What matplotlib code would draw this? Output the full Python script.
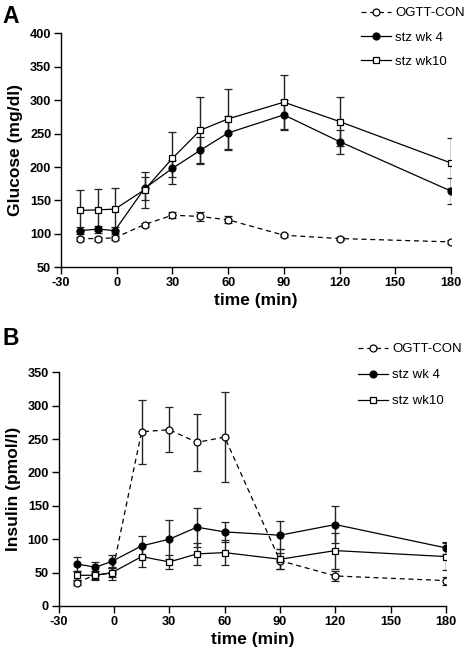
import matplotlib
matplotlib.use("Agg")
import matplotlib.pyplot as plt
from matplotlib.lines import Line2D

plt.rcParams['font.family'] = ['Liberation Sans', 'DejaVu Sans']
plt.rcParams['axes.unicode_minus'] = False

# Time points (min)
time = [-20, -10, -1, 15, 30, 45, 60, 90, 120, 180]
series_names = ["OGTT-CON", "stz wk 4", "stz wk10"]

# Panel A: glucose (mg/dl)
con_glu = [93, 93, 94, 114, 128, 126, 121, 98, 93, 88]
con_glu_err = [3, 3, 3, 3, 4, 6, 5, 2, 2, 3]
wk4_glu = [105, 107, 105, 168, 198, 225, 251, 278, 238, 164]
wk4_glu_err = [5, 5, 5, 17, 13, 20, 25, 22, 18, 19]
wk10_glu = [135, 136, 137, 166, 213, 255, 272, 297, 268, 206]
wk10_glu_err = [30, 31, 31, 27, 39, 49, 45, 40, 37, 38]

# Panel B: insulin (pmol/l)
con_ins = [35, 47, 49, 261, 264, 245, 253, 68, 45, 38]
con_ins_err = [4, 6, 10, 48, 34, 43, 67, 12, 7, 6]
wk4_ins = [63, 58, 67, 90, 100, 118, 111, 106, 122, 87]
wk4_ins_err = [11, 8, 10, 15, 29, 29, 15, 21, 28, 9]
wk10_ins = [46, 46, 50, 74, 66, 78, 80, 70, 83, 74]
wk10_ins_err = [7, 7, 7, 16, 11, 16, 19, 15, 27, 20]

x_ticks = [-30, 0, 30, 60, 90, 120, 150, 180]

W, H = 466, 652
fig = plt.figure(figsize=(W / 100, H / 100), dpi=100)

styles = [
    dict(marker="o", mfc="white", ls=(0, (4, 3))),
    dict(marker="o", mfc="black", ls="-"),
    dict(marker="s", mfc="white", ls="-"),
]


def draw_panel(rect, data, ylim, yticks, ylabel, letter, leg_xy, spacing):
    ax = fig.add_axes(rect)
    handles = []
    for (y, err), st, name in zip(data, styles, series_names):
        ax.errorbar(time, y, yerr=err, color="black", ecolor="#222222",
                    elinewidth=1.0, capsize=3, capthick=1.0,
                    marker=st["marker"], mfc=st["mfc"], mec="black",
                    ms=5, mew=0.9, lw=0.9, ls=st["ls"])
        handles.append(Line2D([], [], color="black", lw=0.9, ls=st["ls"],
                              marker=st["marker"], mfc=st["mfc"], mec="black",
                              ms=5, mew=0.9, label=name))
    ax.set_xlim(-30, 180)
    ax.set_ylim(*ylim)
    ax.set_xticks(x_ticks)
    ax.set_yticks(yticks)
    for s in ["top", "right"]:
        ax.spines[s].set_visible(False)
    for s in ["left", "bottom"]:
        ax.spines[s].set_linewidth(1.0)
    ax.tick_params(direction="out", length=5, width=1.0, labelsize=9.2, pad=2)
    for lab in ax.get_xticklabels() + ax.get_yticklabels():
        lab.set_fontweight("bold")
    ax.set_xlabel("time (min)", fontsize=12.5, fontweight="bold", labelpad=3)
    ax.set_ylabel(ylabel, fontsize=12.5, fontweight="bold", labelpad=5)
    fig.text(2 / W, leg_xy[2], letter, fontsize=16.5, fontweight="bold",
             va="top", ha="left")
    fig.legend(handles=handles, loc="upper left",
               bbox_to_anchor=(leg_xy[0], leg_xy[1]),
               frameon=False, fontsize=9.5, handlelength=2.3,
               handletextpad=0.3, labelspacing=spacing,
               borderpad=0, borderaxespad=0)
    return ax


draw_panel([61 / W, 1 - 267.3 / H, 390 / W, 234 / H],
           [(con_glu, con_glu_err), (wk4_glu, wk4_glu_err), (wk10_glu, wk10_glu_err)],
           (50, 400), range(50, 401, 50), "Glucose (mg/dl)", "A",
           (361 / W, 1 - 7 / H, 1 - 5 / H), 0.92)

draw_panel([58.6 / W, 1 - 606 / H, 387.4 / W, 233.7 / H],
           [(con_ins, con_ins_err), (wk4_ins, wk4_ins_err), (wk10_ins, wk10_ins_err)],
           (0, 350), range(0, 351, 50), "Insulin (pmol/l)", "B",
           (358 / W, 1 - 343 / H, 1 - 327 / H), 1.05)

fig.savefig("out.png", dpi=100)
